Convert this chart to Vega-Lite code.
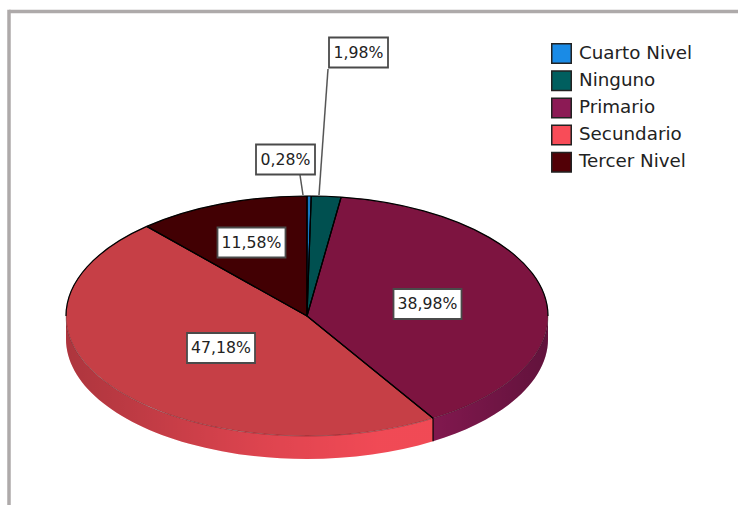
{
  "$schema": "https://vega.github.io/schema/vega-lite/v6.json",
  "width": 738,
  "height": 505,
  "autosize": {"type": "none"},
  "padding": 0,
  "background": "white",
  "view": {"stroke": null},
  "data": {
    "values": [
      {"nivel": "Cuarto Nivel", "pct": 0.28},
      {"nivel": "Ninguno", "pct": 1.98},
      {"nivel": "Primario", "pct": 38.98},
      {"nivel": "Secundario", "pct": 47.18},
      {"nivel": "Tercer Nivel", "pct": 11.58}
    ]
  },
  "transform": [
    {"window": [{"op": "sum", "field": "pct", "as": "cum"}], "sort": [{"field": "nivel", "order": "ascending"}]},
    {"calculate": "(datum.cum - datum.pct) / 100 * 2 * PI", "as": "t0"},
    {"calculate": "datum.cum / 100 * 2 * PI", "as": "t1"},
    {"calculate": "round(24100 * sin(datum.t0)) / 100 + ',' + round(-12000 * cos(datum.t0)) / 100", "as": "p0"},
    {"calculate": "round(24100 * sin(datum.t1)) / 100 + ',' + round(-12000 * cos(datum.t1)) / 100", "as": "p1"},
    {"calculate": "'M0,0L' + datum.p0 + 'A241,120 0 0 1 ' + datum.p1 + 'Z'", "as": "wedge"},
    {"calculate": "max(datum.t0, PI / 2)", "as": "a0"},
    {"calculate": "min(datum.t1, 3 * PI / 2)", "as": "a1"},
    {"calculate": "round(24100 * sin(datum.a0)) / 100", "as": "wx0"},
    {"calculate": "round(-12000 * cos(datum.a0)) / 100", "as": "wy0"},
    {"calculate": "round(24100 * sin(datum.a1)) / 100", "as": "wx1"},
    {"calculate": "round(-12000 * cos(datum.a1)) / 100", "as": "wy1"},
    {"calculate": "'M' + datum.wx0 + ',' + datum.wy0 + 'A241,120 0 0 1 ' + datum.wx1 + ',' + datum.wy1 + 'L' + datum.wx1 + ',' + (datum.wy1 + 23) + 'A241,120 0 0 0 ' + datum.wx0 + ',' + (datum.wy0 + 23) + 'Z'", "as": "wall"},
    {"calculate": "'M' + datum.p0 + 'L0,0L' + datum.p1 + (datum.t0 < PI / 2 ? 'M' + datum.p0 + 'A241,120 0 0 1 ' + round(24100 * sin(min(datum.t1, PI / 2))) / 100 + ',' + round(-12000 * cos(min(datum.t1, PI / 2))) / 100 : '') + (datum.t1 > 3 * PI / 2 ? 'M' + round(24100 * sin(max(datum.t0, 3 * PI / 2))) / 100 + ',' + round(-12000 * cos(max(datum.t0, 3 * PI / 2))) / 100 + 'A241,120 0 0 1 ' + datum.p1 : '')", "as": "edge"},
    {"calculate": "241 * sin(datum.t1)", "as": "xEnd"},
    {"calculate": "-120 * cos(datum.t1)", "as": "yEnd"},
    {"calculate": "datum.yEnd + 23", "as": "yEndLow"},
    {"calculate": "replace(format(datum.pct, '.2f'), '.', ',') + '%'", "as": "etiqueta"},
    {"calculate": "{'Cuarto Nivel': -21.5, 'Ninguno': 51.5, 'Primario': 120.5, 'Secundario': -86, 'Tercer Nivel': -55.5}[datum.nivel]", "as": "lx"},
    {"calculate": "{'Cuarto Nivel': -156.5, 'Ninguno': -263.5, 'Primario': -12, 'Secundario': 32, 'Tercer Nivel': -73.5}[datum.nivel]", "as": "ly"},
    {"calculate": "length(datum.etiqueta) * 9 + 14", "as": "bw"},
    {"calculate": "datum.lx - datum.bw / 2", "as": "bx0"},
    {"calculate": "datum.lx + datum.bw / 2", "as": "bx1"},
    {"calculate": "datum.ly - 15", "as": "by0"},
    {"calculate": "datum.ly + 15", "as": "by1"},
    {"calculate": "datum.nivel === 'Ninguno' ? 21 : -7", "as": "gx0"},
    {"calculate": "datum.nivel === 'Ninguno' ? 12 : -4", "as": "gx1"},
    {"calculate": "datum.nivel === 'Ninguno' ? -247 : -141", "as": "gy0"},
    {"calculate": "-121", "as": "gy1"}
  ],
  "layer": [
    {
      "data": {"values": [{}]},
      "transform": [],
      "mark": {"type": "rule", "color": "#aeaaaa", "strokeWidth": 3.5},
      "encoding": {
        "x": {"datum": -298, "type": "quantitative", "axis": null, "scale": {"domain": [-307, 431], "nice": false, "zero": false}},
        "x2": {"datum": 431},
        "y": {"datum": -304.5, "type": "quantitative", "axis": null, "scale": {"domain": [189, -316], "nice": false, "zero": false}},
        "y2": {"datum": -304.5}
      }
    },
    {
      "data": {"values": [{}]},
      "transform": [],
      "mark": {"type": "rule", "color": "#aeaaaa", "strokeWidth": 3.5},
      "encoding": {
        "x": {"datum": -298, "type": "quantitative", "axis": null, "scale": {"domain": [-307, 431], "nice": false, "zero": false}},
        "x2": {"datum": -298},
        "y": {"datum": -306.25, "type": "quantitative", "axis": null, "scale": {"domain": [189, -316], "nice": false, "zero": false}},
        "y2": {"datum": 189}
      }
    },
    {
      "transform": [{"filter": "datum.a1 > datum.a0"}],
      "mark": {"type": "point", "filled": true, "size": 4, "opacity": 1},
      "encoding": {
        "x": {"datum": 0, "type": "quantitative", "axis": null, "scale": {"domain": [-307, 431], "nice": false, "zero": false}},
        "y": {"datum": 0, "type": "quantitative", "axis": null, "scale": {"domain": [189, -316], "nice": false, "zero": false}},
        "shape": {"field": "wall", "type": "nominal", "scale": null},
        "fill": {
          "field": "nivel",
          "type": "nominal",
          "scale": {
            "domain": ["Cuarto Nivel", "Ninguno", "Primario", "Secundario", "Tercer Nivel"],
            "range": ["#1a8be6", "#005f5f", "#8c1a55", "#f84c58", "#520006"]
          },
          "legend": {
            "title": null,
            "orient": "none",
            "legendX": 551,
            "legendY": 43,
            "symbolType": "square",
            "symbolSize": 380,
            "symbolStrokeColor": "#222222",
            "symbolStrokeWidth": 1.5,
            "symbolOpacity": 1,
            "labelFont": "DejaVu Sans",
            "labelFontSize": 18.3,
            "labelColor": "#222222",
            "labelOffset": 7,
            "rowPadding": 0.2,
            "padding": 0
          }
        }
      }
    },
    {
      "transform": [{"filter": "datum.nivel === 'Secundario'"}],
      "mark": {
        "type": "point",
        "filled": true,
        "size": 4,
        "opacity": 1,
        "fill": {
          "gradient": "linear",
          "x1": 0,
          "x2": 1,
          "y1": 0,
          "y2": 0,
          "stops": [
            {"offset": 0, "color": "rgba(0,0,0,0.3)"},
            {"offset": 0.55, "color": "rgba(0,0,0,0.1)"},
            {"offset": 0.85, "color": "rgba(0,0,0,0.03)"}
          ]
        }
      },
      "encoding": {
        "x": {"datum": 0, "type": "quantitative", "axis": null, "scale": {"domain": [-307, 431], "nice": false, "zero": false}},
        "y": {"datum": 0, "type": "quantitative", "axis": null, "scale": {"domain": [189, -316], "nice": false, "zero": false}},
        "shape": {"field": "wall", "type": "nominal", "scale": null}
      }
    },
    {
      "transform": [{"filter": "datum.nivel === 'Primario'"}],
      "mark": {
        "type": "point",
        "filled": true,
        "size": 4,
        "opacity": 1,
        "fill": {
          "gradient": "linear",
          "x1": 0,
          "x2": 1,
          "y1": 0,
          "y2": 0,
          "stops": [
            {"offset": 0, "color": "rgba(0,0,0,0.08)"},
            {"offset": 1, "color": "rgba(0,0,0,0.3)"}
          ]
        }
      },
      "encoding": {
        "x": {"datum": 0, "type": "quantitative", "axis": null, "scale": {"domain": [-307, 431], "nice": false, "zero": false}},
        "y": {"datum": 0, "type": "quantitative", "axis": null, "scale": {"domain": [189, -316], "nice": false, "zero": false}},
        "shape": {"field": "wall", "type": "nominal", "scale": null}
      }
    },
    {
      "mark": {"type": "point", "filled": true, "size": 4, "opacity": 1, "stroke": "#000000", "strokeWidth": 0.6, "strokeOpacity": 0.45},
      "encoding": {
        "x": {"datum": 0, "type": "quantitative", "axis": null, "scale": {"domain": [-307, 431], "nice": false, "zero": false}},
        "y": {"datum": 0, "type": "quantitative", "axis": null, "scale": {"domain": [189, -316], "nice": false, "zero": false}},
        "shape": {"field": "wedge", "type": "nominal", "scale": null},
        "fill": {
          "field": "nivel",
          "type": "nominal",
          "scale": {
            "domain": ["Cuarto Nivel", "Ninguno", "Primario", "Secundario", "Tercer Nivel"],
            "range": ["#1578c4", "#005050", "#7d1440", "#c63f46", "#420003"]
          },
          "legend": null
        }
      }
    },
    {
      "mark": {"type": "point", "filled": false, "size": 4, "opacity": 1, "stroke": "#000000", "strokeWidth": 1.2, "fill": null},
      "encoding": {
        "x": {"datum": 0, "type": "quantitative", "axis": null, "scale": {"domain": [-307, 431], "nice": false, "zero": false}},
        "y": {"datum": 0, "type": "quantitative", "axis": null, "scale": {"domain": [189, -316], "nice": false, "zero": false}},
        "shape": {"field": "edge", "type": "nominal", "scale": null}
      }
    },
    {
      "transform": [{"filter": "datum.nivel === 'Primario'"}],
      "mark": {"type": "rule", "color": "#000000", "strokeWidth": 1.2},
      "encoding": {
        "x": {"field": "xEnd", "type": "quantitative", "axis": null, "scale": {"domain": [-307, 431], "nice": false, "zero": false}},
        "y": {"field": "yEnd", "type": "quantitative", "axis": null, "scale": {"domain": [189, -316], "nice": false, "zero": false}},
        "y2": {"field": "yEndLow"}
      }
    },
    {
      "transform": [{"filter": "datum.pct < 3"}],
      "mark": {"type": "rule", "color": "#555555", "strokeWidth": 1.5},
      "encoding": {
        "x": {"field": "gx0", "type": "quantitative", "axis": null, "scale": {"domain": [-307, 431], "nice": false, "zero": false}},
        "y": {"field": "gy0", "type": "quantitative", "axis": null, "scale": {"domain": [189, -316], "nice": false, "zero": false}},
        "x2": {"field": "gx1"},
        "y2": {"field": "gy1"}
      }
    },
    {
      "mark": {"type": "rect", "fill": "white", "stroke": "#4a4a4a", "strokeWidth": 1.8},
      "encoding": {
        "x": {"field": "bx0", "type": "quantitative", "axis": null, "scale": {"domain": [-307, 431], "nice": false, "zero": false}},
        "x2": {"field": "bx1"},
        "y": {"field": "by0", "type": "quantitative", "axis": null, "scale": {"domain": [189, -316], "nice": false, "zero": false}},
        "y2": {"field": "by1"}
      }
    },
    {
      "mark": {"type": "text", "font": "DejaVu Sans", "fontSize": 15.7, "color": "#222222", "align": "center", "baseline": "middle"},
      "encoding": {
        "x": {"field": "lx", "type": "quantitative", "axis": null, "scale": {"domain": [-307, 431], "nice": false, "zero": false}},
        "y": {"field": "ly", "type": "quantitative", "axis": null, "scale": {"domain": [189, -316], "nice": false, "zero": false}},
        "text": {"field": "etiqueta", "type": "nominal"}
      }
    }
  ],
  "resolve": {"scale": {"fill": "independent"}}
}
